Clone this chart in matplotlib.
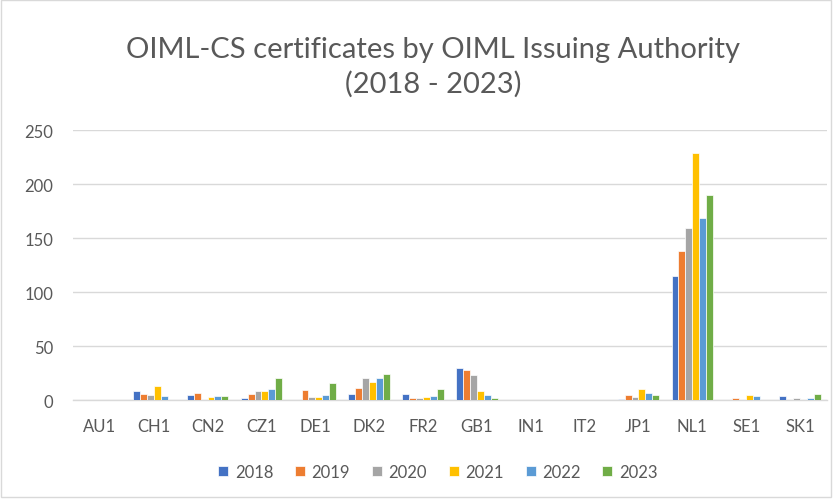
import matplotlib
matplotlib.use("Agg")
import matplotlib.pyplot as plt
import numpy as np
from matplotlib.patches import Rectangle

categories = ["AU1", "CH1", "CN2", "CZ1", "DE1", "DK2", "FR2", "GB1", "IN1", "IT2", "JP1", "NL1", "SE1", "SK1"]
years = ["2018", "2019", "2020", "2021", "2022", "2023"]
v2018 = [0, 8, 5, 2, 0, 6, 6, 30, 0, 0, 1, 115, 0, 4]
v2019 = [0, 6, 7, 6, 9, 11, 2, 28, 0, 0, 5, 138, 2, 0]
v2020 = [0, 5, 0, 8, 3, 20, 2, 23, 0, 0, 3, 159, 0, 2]
v2021 = [0, 13, 3, 8, 3, 17, 3, 8, 0, 0, 10, 229, 5, 0]
v2022 = [0, 4, 4, 10, 5, 20, 4, 5, 0, 0, 7, 169, 4, 2]
v2023 = [0, 0, 4, 20, 16, 24, 10, 2, 0, 0, 5, 190, 0, 6]
series = [v2018, v2019, v2020, v2021, v2022, v2023]
colors = ["#4472C4", "#ED7D31", "#A5A5A5", "#FFC000", "#5B9BD5", "#70AD47"]
title = "OIML-CS certificates by OIML Issuing Authority\n(2018 - 2023)"

plt.rcParams['font.family'] = ['Lato', 'DejaVu Sans']
fig = plt.figure(figsize=(8.34, 5.02), dpi=100)
ax = fig.add_axes([0.0875, 0.201, 0.904, 0.538])

x = np.arange(len(categories))
w = 0.128
for i, (vals, c, yr) in enumerate(zip(series, colors, years)):
    ax.bar(x + (i - 2.5) * w, vals, width=w, color=c, edgecolor="white", linewidth=0.5, label=yr, zorder=3)

ax.set_xlim(-0.5, len(categories) - 0.5)
ax.set_ylim(0, 250)
ax.set_yticks([0, 50, 100, 150, 200, 250])
ax.set_xticks(x)
ax.set_xticklabels(categories)
ax.grid(axis="y", color="#D9D9D9", linewidth=1, zorder=0)
for s in ["top", "right", "left"]:
    ax.spines[s].set_visible(False)
ax.spines["bottom"].set_color("#D9D9D9")
ax.spines["bottom"].set_linewidth(1)
ax.tick_params(axis="both", length=0, colors="#595959", labelsize=12)
ax.tick_params(axis="y", pad=14)
ax.tick_params(axis="x", pad=13)

fig.text(0.519, 0.866, title, ha="center", va="center", fontsize=21, color="#595959", linespacing=1.35)

leg = fig.legend(loc="center", bbox_to_anchor=(0.525, 0.058), ncol=6, frameon=False,
                 fontsize=12, handlelength=0.6, handleheight=0.6, handletextpad=0.4, columnspacing=1.3)
for t in leg.get_texts():
    t.set_color("#595959")

fig.patches.append(Rectangle((0.001, 0.008), 0.995, 0.99, transform=fig.transFigure,
                             fill=False, edgecolor="#D9D9D9", linewidth=1))
fig.savefig("out.png", dpi=100)
